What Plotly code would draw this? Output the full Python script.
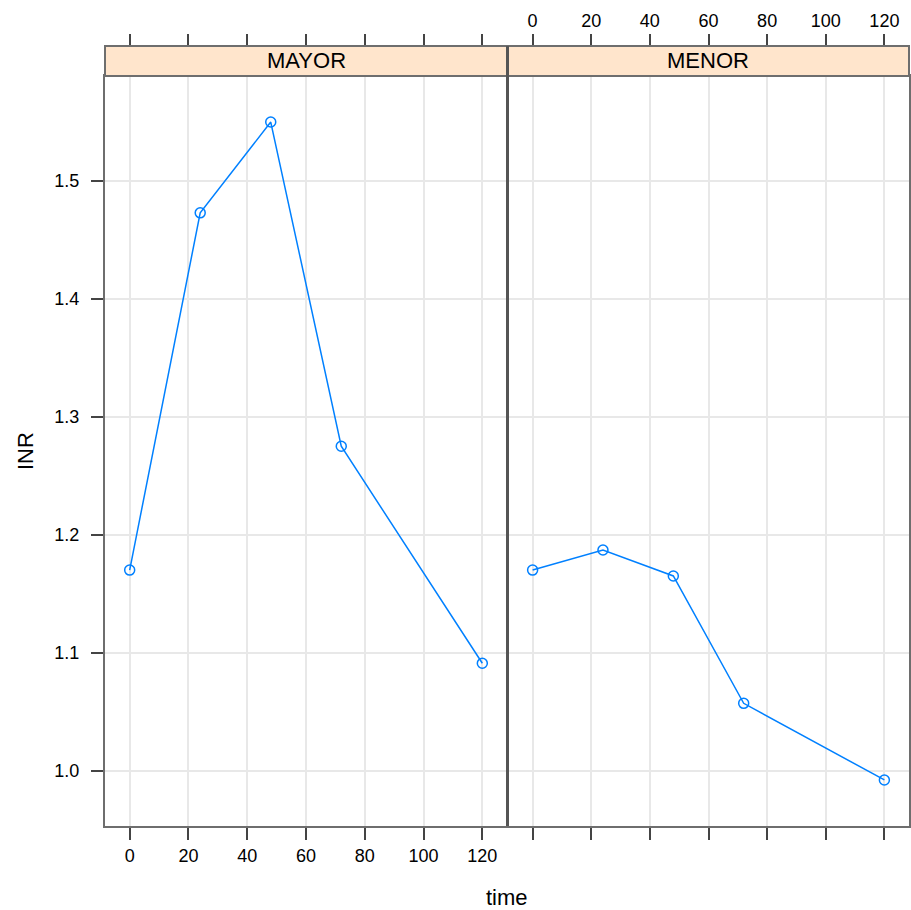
import plotly.graph_objects as go

time = [0, 24, 48, 72, 120]
inr_mayor = [1.170, 1.473, 1.550, 1.275, 1.091]
inr_menor = [1.170, 1.187, 1.165, 1.057, 0.992]
panels = ["MAYOR", "MENOR"]
x_ticks = [0, 20, 40, 60, 80, 100, 120]
y_ticks = [1.0, 1.1, 1.2, 1.3, 1.4, 1.5]

W, H = 911, 910
FONT = "Liberation Sans, Arial, Helvetica, sans-serif"
BLUE = "#0080ff"
BORDER = "#6e6e6e"
GRID = "#e8e8e8"

# layout geometry (pixels)
px_left, px_mid, px_right = 105, 507, 909
py_top, py_bot, py_strip_top = 76, 826, 46

def fx(p):
    return p / W

def fy(p):
    return 1 - p / H

# data ranges with lattice-like 7% padding
allx = time
ally = inr_mayor + inr_menor
xpad = 0.07 * (max(allx) - min(allx))
ypad = 0.07 * (max(ally) - min(ally))
xr = [min(allx) - xpad, max(allx) + xpad]
yr = [min(ally) - ypad, max(ally) + ypad]

fig = go.Figure()

series = [inr_mayor, inr_menor]
xa = ["x", "x2"]
ya = ["y", "y2"]
for i, vals in enumerate(series):
    fig.add_trace(go.Scatter(
        x=time, y=vals, mode="lines+markers",
        line=dict(color=BLUE, width=1.5),
        marker=dict(symbol="circle-open", size=10, color=BLUE, line=dict(width=1.5, color=BLUE)),
        xaxis=xa[i], yaxis=ya[i], showlegend=False, hoverinfo="x+y",
    ))
# invisible traces so top axes are drawn
fig.add_trace(go.Scatter(x=time, y=inr_mayor, mode="markers", marker=dict(opacity=0),
                         xaxis="x3", yaxis="y", showlegend=False, hoverinfo="skip"))
fig.add_trace(go.Scatter(x=time, y=inr_menor, mode="markers", marker=dict(opacity=0),
                         xaxis="x4", yaxis="y2", showlegend=False, hoverinfo="skip"))

tickfont = dict(family=FONT, size=18, color="#000000")
dom_l = [fx(px_left), fx(px_mid)]
dom_r = [fx(px_mid + 1), fx(px_right)]
ydom = [fy(py_bot), fy(py_top)]

common_x = dict(range=xr, tickmode="array", tickvals=x_ticks, ticktext=[str(v) for v in x_ticks],
                showgrid=True, gridcolor=GRID, gridwidth=1.5, zeroline=False,
                showline=True, linecolor=BORDER, linewidth=2, mirror=True,
                ticks="outside", ticklen=12, tickwidth=2, tickcolor="#444444",
                tickfont=tickfont, fixedrange=True)
common_top = dict(range=xr, tickmode="array", tickvals=x_ticks, ticktext=[str(v) for v in x_ticks],
                  showgrid=False, zeroline=False, showline=False, side="top",
                  anchor="free", position=fy(py_strip_top),
                  ticks="outside", ticklen=12, tickwidth=2, tickcolor="#444444",
                  tickfont=tickfont, fixedrange=True)
common_y = dict(range=yr, tickmode="array", tickvals=y_ticks, ticktext=[f"{v:.1f}" for v in y_ticks],
                showgrid=True, gridcolor=GRID, gridwidth=1.5, zeroline=False,
                showline=True, linecolor=BORDER, linewidth=2, mirror=True,
                tickfont=tickfont, fixedrange=True, domain=ydom)

fig.update_layout(
    width=W, height=H, margin=dict(l=0, r=0, t=0, b=0),
    paper_bgcolor="white", plot_bgcolor="white",
    font=dict(family=FONT, size=18, color="black"),
    xaxis=dict(domain=dom_l, anchor="y", **common_x),
    xaxis2=dict(domain=dom_r, anchor="y2", showticklabels=False, **common_x),
    xaxis3=dict(domain=dom_l, overlaying="x", showticklabels=False, **common_top),
    xaxis4=dict(domain=dom_r, overlaying="x2", showticklabels=True, **common_top),
    yaxis=dict(anchor="x", ticks="outside", ticklen=12, tickwidth=2, tickcolor="#444444",
               ticklabelstandoff=8, **common_y),
    yaxis2=dict(anchor="x2", ticks="", showticklabels=False, **common_y),
)

shapes = []
annotations = []
strip_x = [(px_left, px_mid), (px_mid, px_right)]
for (a, b), name in zip(strip_x, panels):
    shapes.append(dict(type="rect", xref="paper", yref="paper",
                       x0=fx(a), x1=fx(b), y0=fy(py_top), y1=fy(py_strip_top),
                       fillcolor="#ffe5cc", line=dict(color=BORDER, width=2), layer="above"))
    annotations.append(dict(text=name, xref="paper", yref="paper",
                            x=fx((a + b) / 2), y=fy((py_top + py_strip_top) / 2),
                            showarrow=False, font=dict(family=FONT, size=22, color="black"),
                            xanchor="center", yanchor="middle"))
# dark divider between panels (overlapping borders)
shapes.append(dict(type="line", xref="paper", yref="paper",
                   x0=fx(px_mid + 0.5), x1=fx(px_mid + 0.5), y0=fy(py_bot), y1=fy(py_strip_top),
                   line=dict(color="#555555", width=3), layer="above"))

annotations.append(dict(text="time", xref="paper", yref="paper", x=fx(px_mid), y=fy(897),
                        showarrow=False, font=dict(family=FONT, size=22, color="black"),
                        xanchor="center", yanchor="middle"))
annotations.append(dict(text="INR", xref="paper", yref="paper", x=fx(25), y=fy((py_top + py_bot) / 2),
                        showarrow=False, textangle=-90, font=dict(family=FONT, size=22, color="black"),
                        xanchor="center", yanchor="middle"))

fig.update_layout(shapes=shapes, annotations=annotations)
fig.write_html("out.html")
